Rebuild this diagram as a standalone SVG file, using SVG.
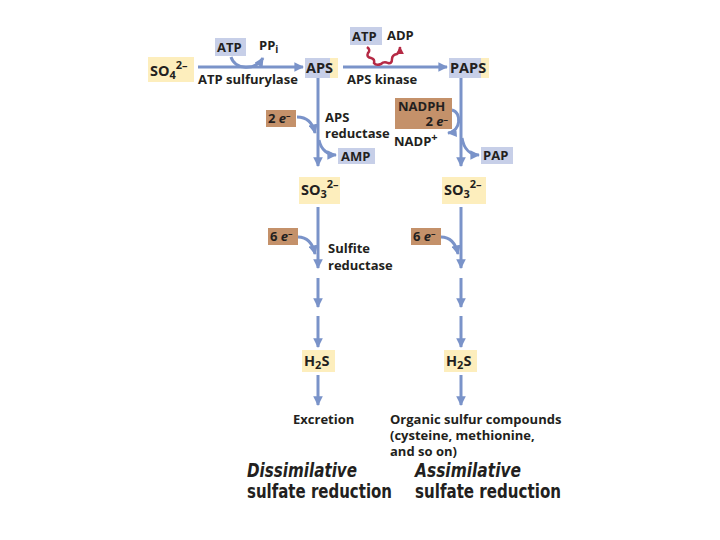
<svg xmlns="http://www.w3.org/2000/svg" width="720" height="540" viewBox="0 0 720 540">
<defs>
<marker id="ah" viewBox="0 0 10 10" refX="9" refY="5" markerWidth="3.2" markerHeight="3.2" orient="auto" markerUnits="strokeWidth">
<path d="M0,0 L10,5 L0,10 z" fill="#7a93c9"/>
</marker>
<marker id="ahr" viewBox="0 0 10 10" refX="9" refY="5" markerWidth="3.2" markerHeight="3.2" orient="auto" markerUnits="strokeWidth">
<path d="M0,0 L10,5 L0,10 z" fill="#b52a45"/>
</marker>
<style>
.t{font-family:"Open Sans","Liberation Sans",Arial,sans-serif;font-weight:bold;fill:#231f20;font-size:13px}
.b{font-size:14.5px}
.y{fill:#fdeebd}
.bl{fill:#c7cfe8}
.br{fill:#c4916a}
.c{fill:none;stroke:#7a93c9;stroke-width:3;marker-end:url(#ah)}
.cr{fill:none;stroke:#b52a45;stroke-width:2.5;marker-end:url(#ahr)}
.h{font-family:"DejaVu Sans","Liberation Sans",sans-serif;font-weight:bold;fill:#231f20;font-size:19px}
</style>
</defs>
<rect width="720" height="540" fill="#ffffff"/>

<g id="connectors">
<path class="c" d="M198,67 H303"/>
<path class="c" d="M343,67 H447"/>
<path class="c" d="M231,57 C235,70 255,71 263,58"/>
<path class="cr" d="M367,47 q4,3 1,6 q-2,4 3,5 q4,1 3,5 q2,3 7,1 q3,-3 7,-1 q4,1 4,-4 q0,-4 5,-5 q3,-2 3,-7"/>
<path class="c" d="M318,78 V166"/>
<path class="c" d="M461,78 V166"/>
<path class="c" d="M297,117 C308,117 313,124 315,133"/>
<path class="c" d="M319,140 C321,150 328,155 336,155"/>
<path class="c" d="M452,110 C462,112 461,132 448,133"/>
<path class="c" d="M462,138 C464,150 471,155 479,155"/>
<path class="c" d="M318,207 V268"/>
<path class="c" d="M461,207 V268"/>
<path class="c" d="M298,237 C308,237 313,245 315,254"/>
<path class="c" d="M441,237 C451,237 456,245 458,254"/>
<path class="c" d="M318,278 V307"/>
<path class="c" d="M461,278 V307"/>
<path class="c" d="M318,316 V347"/>
<path class="c" d="M461,316 V347"/>
<path class="c" d="M318,375 V405"/>
<path class="c" d="M461,375 V405"/>
</g>

<g id="so4">
<rect class="y" x="148" y="57" width="46" height="25"/>
<text class="t b" x="150" y="76">SO<tspan font-size="11" dy="3">4</tspan><tspan font-size="11" dy="-10">2–</tspan></text>
</g>
<g id="atp1">
<rect class="bl" x="215" y="38" width="31" height="18"/>
<text class="t" x="217" y="52">ATP</text>
</g>
<g id="ppi">
<text class="t" x="259" y="50">PP<tspan font-size="10" dy="3">i</tspan></text>
</g>
<g id="sulfurylase">
<text class="t" x="198" y="84">ATP sulfurylase</text>
</g>
<g id="aps">
<rect class="bl" x="305" y="58" width="25" height="20"/>
<rect class="y" x="330" y="58" width="8" height="20"/>
<text class="t b" x="306" y="73">APS</text>
</g>
<g id="atp2">
<rect class="bl" x="350" y="27" width="32" height="18"/>
<text class="t" x="352" y="41">ATP</text>
</g>
<g id="adp">
<text class="t" x="387" y="40">ADP</text>
</g>
<g id="kinase">
<text class="t" x="347" y="84">APS kinase</text>
</g>
<g id="paps">
<rect class="bl" x="449" y="58" width="32" height="20"/>
<rect class="y" x="481" y="58" width="8" height="20"/>
<text class="t b" x="450" y="73">PAPS</text>
</g>
<g id="e2">
<rect class="br" x="266" y="110" width="30" height="17"/>
<text class="t" x="268" y="123">2 <tspan font-style="italic">e</tspan><tspan font-size="9" dy="-4">–</tspan></text>
</g>
<g id="apsred">
<text class="t" x="325" y="122">APS</text>
<text class="t" x="325" y="138">reductase</text>
</g>
<g id="amp">
<rect class="bl" x="338" y="148" width="37" height="16"/>
<text class="t" x="341" y="161">AMP</text>
</g>
<g id="nadph">
<rect class="br" x="395" y="98" width="57" height="31"/>
<text class="t" x="398" y="111">NADPH</text>
<text class="t" x="448" y="126" text-anchor="end">2 <tspan font-style="italic">e</tspan><tspan font-size="9" dy="-3">–</tspan></text>
</g>
<g id="nadp">
<text class="t" x="394" y="146">NADP<tspan font-size="11" dy="-5">+</tspan></text>
</g>
<g id="pap">
<rect class="bl" x="481" y="147" width="32" height="17"/>
<text class="t" x="483" y="160">PAP</text>
</g>
<g id="so3l">
<rect class="y" x="299" y="177" width="41" height="27"/>
<text class="t b" x="301" y="195">SO<tspan font-size="11" dy="3">3</tspan><tspan font-size="11" dy="-10">2–</tspan></text>
</g>
<g id="so3r">
<rect class="y" x="442" y="177" width="44" height="27"/>
<text class="t b" x="444" y="195">SO<tspan font-size="11" dy="3">3</tspan><tspan font-size="11" dy="-10">2–</tspan></text>
</g>
<g id="e6l">
<rect class="br" x="268" y="228" width="30" height="17"/>
<text class="t" x="270" y="241">6 <tspan font-style="italic">e</tspan><tspan font-size="9" dy="-4">–</tspan></text>
</g>
<g id="sulfitered">
<text class="t" x="328" y="253">Sulfite</text>
<text class="t" x="328" y="270">reductase</text>
</g>
<g id="e6r">
<rect class="br" x="411" y="228" width="30" height="17"/>
<text class="t" x="413" y="241">6 <tspan font-style="italic">e</tspan><tspan font-size="9" dy="-4">–</tspan></text>
</g>
<g id="h2sl">
<rect class="y" x="302" y="350" width="33" height="22"/>
<text class="t b" x="304" y="366">H<tspan font-size="11" dy="3">2</tspan><tspan dy="-3">S</tspan></text>
</g>
<g id="h2sr">
<rect class="y" x="444" y="350" width="33" height="22"/>
<text class="t b" x="446" y="366">H<tspan font-size="11" dy="3">2</tspan><tspan dy="-3">S</tspan></text>
</g>
<g id="excretion">
<text class="t" x="293" y="424">Excretion</text>
</g>
<g id="organic">
<text class="t" x="390" y="424">Organic sulfur compounds</text>
<text class="t" x="390" y="440">(cysteine, methionine,</text>
<text class="t" x="390" y="456">and so on)</text>
</g>
<g id="titles">
<text class="h" x="247" y="477" font-style="italic" textLength="110" lengthAdjust="spacingAndGlyphs">Dissimilative</text>
<text class="h" x="247" y="498" textLength="145" lengthAdjust="spacingAndGlyphs">sulfate reduction</text>
<text class="h" x="415" y="477" font-style="italic" textLength="106" lengthAdjust="spacingAndGlyphs">Assimilative</text>
<text class="h" x="415" y="498" textLength="146" lengthAdjust="spacingAndGlyphs">sulfate reduction</text>
</g>
</svg>
